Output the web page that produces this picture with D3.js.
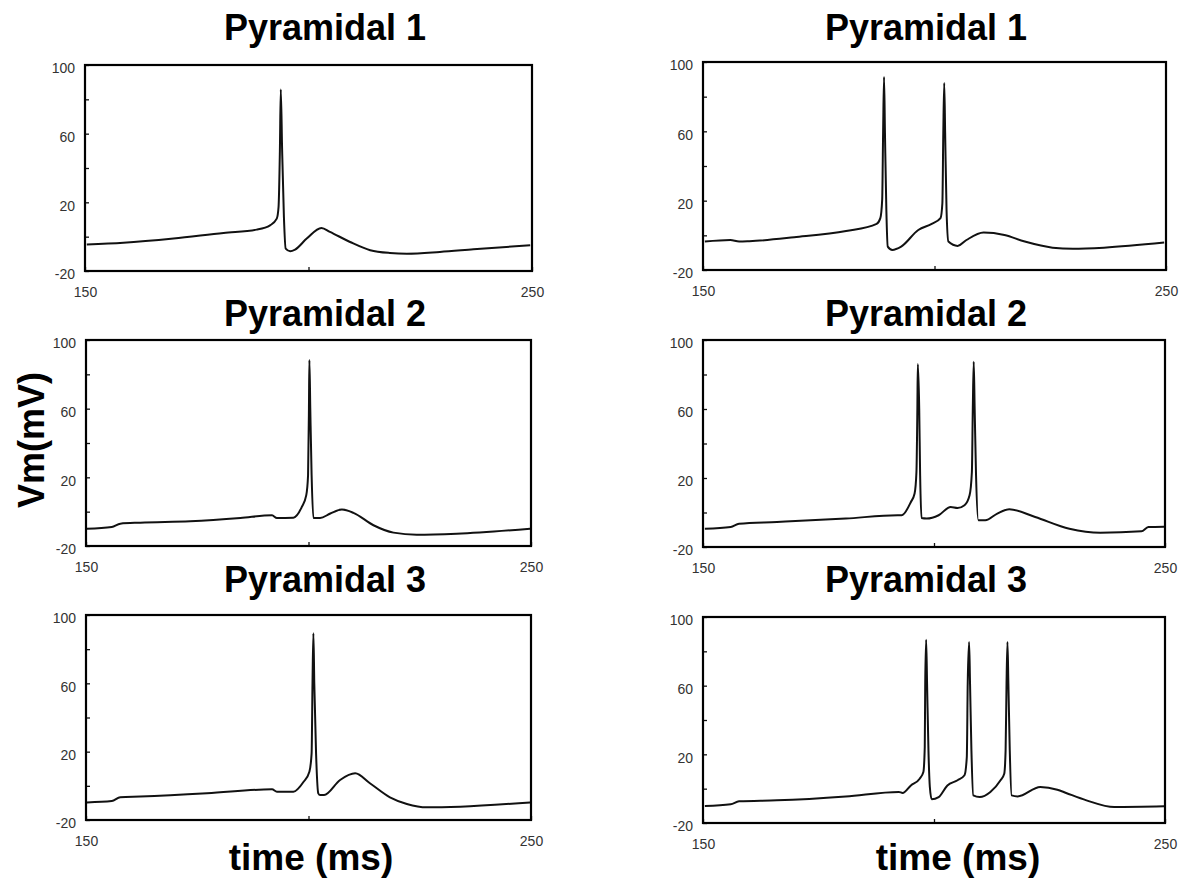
<!DOCTYPE html>
<html>
<head>
<meta charset="utf-8">
<script src="https://cdn.jsdelivr.net/npm/d3@7"></script>
<style>
    body { margin: 0; background: #fff; }
    svg { display: block; font-family: "Liberation Sans", Arial, sans-serif; }
</style>
</head>
<body>
<div id="chart"></div>
<script>

// membrane potential traces, [time (ms), Vm (mV)]
const pyr1Single = [
    [150.4, -4.6], [158.6, -3.6], [169.8, -1.1], [181, 2.2], [188.4, 4.1], [191.4, 6.6],
    [192.9, 10.5], [193.3, 17.3], [193.6, 50.4], [193.8, 85.8], [194.1, 50.4], [194.5, 11.5],
    [194.9, -7], [195.9, -8.5], [197, -7.5], [199.6, -1.1], [202.9, 5.1], [204.8, 2.8],
    [209.3, -3.1], [213.8, -7.9], [218.2, -9.5], [222, -9.9], [229.4, -8.9], [236.9, -7.4],
    [249.6, -5]
];
const pyr1Burst = [
    [150.4, -3.6], [155.9, -2.7], [157.8, -3.6], [160, -3.4], [169.7, -1.1], [180.9, 2.5],
    [187.5, 6.6], [188.3, 9.9], [188.7, 20.5], [188.9, 59], [189.1, 91.3], [189.3, 59],
    [189.6, 14.7], [189.9, -6.5], [190.9, -8.4], [192.8, -6.5], [196.5, 3.1], [199.4, 6.6],
    [201.3, 9.9], [201.7, 18.5], [201.9, 59], [202.1, 87.9], [202.3, 59], [202.6, 14.7],
    [203, -3.6], [205, -6.1], [206.9, -2.7], [210.6, 1.6], [215.1, 0.2], [219.5, -3.6],
    [225.5, -7.1], [229.9, -7.7], [236.6, -7.1], [249.6, -4.2]
];
const pyr2Single = [
    [150.2, -9.9], [155.8, -8.9], [157.7, -7], [162.2, -6.4], [173.4, -5.6], [184.7, -3.7],
    [191.8, -2.1], [192.9, -3.7], [196.6, -3.5], [198.5, 2.8], [199.5, 9.6], [199.9, 21.2],
    [200.1, 60.1], [200.2, 88.3], [200.4, 60.1], [200.7, 21.2], [201.1, -3.7], [202.6, -3.7],
    [204.9, -1.1], [207.5, 1.2], [210.1, -0.7], [214.6, -7.9], [219.1, -12.2], [224.3, -13.4],
    [233.3, -12.8], [249.8, -9.9]
];
const pyr2Burst = [
    [150.4, -9.4], [156, -8.4], [157.8, -6.5], [166, -5.5], [180.9, -3.5], [192.1, -1.6],
    [193, -1.6], [195, 6.1], [195.8, 11], [196.2, 23.5], [196.4, 60.3], [196.5, 86.1],
    [196.8, 60.3], [197, 21.6], [197.3, -3.2], [198.4, -3.5], [201, -1.6], [203.6, 3.2],
    [205.1, 2.6], [206.6, 4.2], [207.7, 10], [208.2, 23.5], [208.4, 60.3], [208.6, 87.4],
    [208.8, 60.3], [209.1, 21.6], [209.6, -4.5], [211.1, -4.5], [213.7, -0.6], [216.3, 1.9],
    [221.9, -2.6], [229.3, -9.4], [236, -11.7], [244.9, -10.9], [246.4, -8.4], [249.8, -8.2]
];
const pyr3Single = [
    [150.2, -9.7], [155.8, -8.9], [157.7, -6.7], [162.2, -6.3], [177.2, -4.4], [191.8, -2],
    [192.9, -3.4], [196.6, -3.4], [198.9, 2.4], [200.2, 8.3], [200.7, 19], [200.9, 60],
    [201.1, 89.3], [201.3, 60], [201.7, 19], [202.2, -4.4], [202.6, -5.4], [203.5, -5.4],
    [207.1, 3.4], [210.5, 7.3], [213.8, 1.5], [218.3, -6.7], [222.1, -10.6], [226.6, -12.6],
    [234.1, -12.2], [249.8, -9.7]
];
const pyr3Burst = [
    [150.4, -10.1], [156, -9.1], [157.8, -7.4], [166, -6.8], [180.9, -4.5], [192.4, -1.9],
    [193.2, -2.5], [195, 1.9], [196.9, 5.8], [197.7, 9.7], [198, 24.3], [198.1, 61.2],
    [198.3, 86.8], [198.5, 61.2], [198.8, 22.3], [199.1, 1], [199.5, -6.2], [201, -4.9],
    [202.9, 1.9], [205.1, 4.9], [206.6, 7.8], [207.1, 18.4], [207.3, 61.2], [207.6, 85.4],
    [207.8, 61.2], [208.1, 22.3], [208.5, -3.9], [209.9, -4.9], [212.2, -1.9], [214.4, 4.9],
    [215.2, 8.7], [215.5, 22.3], [215.7, 61.2], [215.9, 85.4], [216.1, 61.2], [216.4, 22.3],
    [216.8, -3.9], [218.1, -4.5], [223, 1], [226.7, -0.6], [228.6, -2.5], [233, -6.8],
    [239, -10.7], [249.8, -10.3]
];

const panelTitles = ["Pyramidal 1", "Pyramidal 2", "Pyramidal 3"];
const timeDomain = [150, 250];
const vmDomain = [-20, 100];
const xTicks = [150, 200, 250];
const xTickLabels = [150, 250];
const yTicks = [-20, 0, 20, 40, 60, 80, 100];
const yTickLabels = [-20, 20, 60, 100];

//One framed voltage trace
class TracePanel {

    constructor(svg, data, title, frame, titlePos) {
        this.svg = svg;
        this.data = data;
        this.title = title;
        this.frame = frame;
        this.titlePos = titlePos;
        this.initVis();
    }

    initVis() {
        let vis = this;
        let f = vis.frame;

        vis.x = d3.scaleLinear().domain(timeDomain).range([f.x0, f.x1]);
        vis.y = d3.scaleLinear().domain(vmDomain).range([f.y1, f.y0]);

        vis.g = vis.svg.append("g").attr("class", "panel");

        vis.g.append("text")
            .attr("x", vis.titlePos.x)
            .attr("y", vis.titlePos.y)
            .attr("text-anchor", "middle")
            .style("font-size", "36px")
            .style("font-weight", "bold")
            .style("fill", "#000")
            .text(vis.title);

        // y axis, ticks pointing inward
        let yAxis = d3.axisLeft(vis.y)
            .tickValues(yTicks)
            .tickSizeInner(-4)
            .tickSizeOuter(0)
            .tickPadding(10)
            .tickFormat(d => yTickLabels.includes(d) ? d : "");

        vis.g.append("g")
            .attr("transform", `translate(${f.x0},0)`)
            .call(yAxis)
            .call(g => g.select(".domain").remove())
            .call(g => g.selectAll(".tick line").attr("stroke", "#111").attr("stroke-width", 1.3))
            .call(g => g.selectAll(".tick text")
                .attr("dy", "0.55em")
                .style("font-size", "14px")
                .style("fill", "#333")
                .style("font-family", "'Liberation Sans', Arial, sans-serif"));

        let xAxis = d3.axisBottom(vis.x)
            .tickValues(xTicks)
            .tickSizeInner(-4)
            .tickSizeOuter(0)
            .tickPadding(16)
            .tickFormat(d => xTickLabels.includes(d) ? d : "");

        vis.g.append("g")
            .attr("transform", `translate(0,${f.y1})`)
            .call(xAxis)
            .call(g => g.select(".domain").remove())
            .call(g => g.selectAll(".tick line").attr("stroke", "#111").attr("stroke-width", 1.3))
            .call(g => g.selectAll(".tick text")
                .style("font-size", "14px")
                .style("fill", "#333")
                .style("font-family", "'Liberation Sans', Arial, sans-serif"));

        vis.line = d3.line()
            .x(d => vis.x(d[0]))
            .y(d => vis.y(d[1]))
            .curve(d3.curveMonotoneX);

        vis.updateVis();
    }

    updateVis() {
        let vis = this;
        let f = vis.frame;

        vis.g.append("path")
            .datum(vis.data)
            .attr("fill", "none")
            .attr("stroke", "#111")
            .attr("stroke-width", 2)
            .attr("stroke-linejoin", "round")
            .attr("d", vis.line);

        vis.g.append("rect")
            .attr("x", f.x0)
            .attr("y", f.y0)
            .attr("width", f.x1 - f.x0)
            .attr("height", f.y1 - f.y0)
            .attr("fill", "none")
            .attr("stroke", "#000")
            .attr("stroke-width", 2.2);
    }
}

const width = 1189, height = 881;

const svg = d3.select("#chart")
    .append("svg")
    .attr("width", width)
    .attr("height", height);

svg.append("rect").attr("width", width).attr("height", height).attr("fill", "#fff");

const frames = [
    { x0: 85, x1: 532, y0: 65, y1: 271 },
    { x0: 703, x1: 1166, y0: 62, y1: 270 },
    { x0: 86, x1: 531, y0: 340, y1: 546 },
    { x0: 703, x1: 1165, y0: 340, y1: 547 },
    { x0: 86, x1: 531, y0: 615, y1: 820 },
    { x0: 703, x1: 1165, y0: 617, y1: 823 }
];
const titleRows = [40, 326, 592];
const titleCols = [325, 926];
const traces = [pyr1Single, pyr1Burst, pyr2Single, pyr2Burst, pyr3Single, pyr3Burst];

traces.forEach((trace, i) => {
    let row = Math.floor(i / 2), col = i % 2;
    new TracePanel(svg, trace, panelTitles[row], frames[i], { x: titleCols[col], y: titleRows[row] });
});

// shared axis labels
svg.append("text")
    .attr("transform", "translate(44,440) rotate(-90)")
    .attr("text-anchor", "middle")
    .style("font-size", "36px")
    .style("font-weight", "bold")
    .text("Vm(mV)");

[311, 958].forEach(cx => {
    svg.append("text")
        .attr("x", cx)
        .attr("y", 870)
        .attr("text-anchor", "middle")
        .style("font-size", "37px")
        .style("font-weight", "bold")
        .text("time (ms)");
});

</script>
</body>
</html>
